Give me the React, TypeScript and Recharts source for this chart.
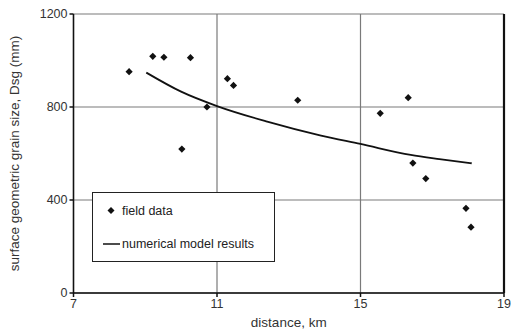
import React from 'react';
import { ComposedChart, Scatter, Line, XAxis, YAxis, CartesianGrid, ReferenceLine } from 'recharts';

// field observations (distance km, Dsg mm)
const fieldX = [8.55, 9.21, 9.52, 10.26, 10.02, 10.72, 11.29, 11.46, 13.25, 15.55, 16.33, 16.46, 16.82, 17.94, 18.08];
const fieldY = [952, 1018, 1014, 1012, 619, 800, 922, 893, 829, 773, 840, 559, 492, 364, 283];

// model curve
const modelX = [9.03, 10, 11, 12.4, 13.9, 15, 16.4, 17.2, 18.1];
const modelY = [948, 866, 804, 737, 677, 641, 594, 576, 558];

const xTicks = [7, 11, 15, 19];
const yTicks = [0, 400, 800, 1200];

const fieldData = fieldX.map((x, i) => ({ x, y: fieldY[i] }));
const modelData = modelX.map((x, i) => ({ x, m: modelY[i] }));

const FONT = 'Liberation Sans, Arial, sans-serif';

function Diamond(props: any) {
  const { cx, cy } = props;
  const r = 3.6;
  return <polygon points={`${cx},${cy - r} ${cx + r},${cy} ${cx},${cy + r} ${cx - r},${cy}`} fill="#111" />;
}

function LegendBox() {
  return (
    <svg width={183} height={70} style={{ position: 'absolute', left: 92, top: 192 }}>
      <rect x={0.5} y={0.5} width={182} height={69} fill="#fff" stroke="#222" strokeWidth={1} />
      <polygon points="19,15 22.5,18.5 19,22 15.5,18.5" fill="#111" />
      <line x1={11} y1={52} x2={28} y2={52} stroke="#111" strokeWidth={1.5} />
      <text x={30} y={23} fontSize={12.5} fill="#222" fontFamily={FONT}>field data</text>
      <text x={30} y={56} fontSize={12.5} fill="#222" fontFamily={FONT}>numerical model results</text>
    </svg>
  );
}

export default function App() {
  return (
    <div style={{ position: 'absolute', left: 0, top: 0, width: 522, height: 330, background: '#fff' }}>
      <ComposedChart width={522} height={330} margin={{ top: 14, right: 18, bottom: 0, left: 0 }}>
        <CartesianGrid stroke="#7a7a7a" strokeWidth={1.2} />
        <XAxis
          type="number"
          dataKey="x"
          domain={[7, 19]}
          ticks={xTicks}
          height={37}
          stroke="#111"
          strokeWidth={1.5}
          tickSize={4}
          tick={{ fill: '#333', fontSize: 12.5, fontFamily: FONT }}
          label={{ value: 'distance, km', position: 'insideBottom', offset: 3, fill: '#333', fontSize: 13.5, fontFamily: FONT }}
        />
        <YAxis
          type="number"
          domain={[0, 1200]}
          ticks={yTicks}
          width={73.5}
          stroke="#111"
          strokeWidth={1.5}
          tickSize={4}
          tick={{ fill: '#333', fontSize: 12.5, fontFamily: FONT }}
          label={{
            value: 'surface geometric grain size, Dsg (mm)',
            angle: -90,
            position: 'insideLeft',
            offset: 14,
            style: { textAnchor: 'middle' },
            fill: '#333',
            fontSize: 13.5,
            fontFamily: FONT,
          }}
        />
        <ReferenceLine x={19} stroke="#111" strokeWidth={2.2} />
        <Line
          data={modelData}
          dataKey="m"
          type="monotone"
          stroke="#111"
          strokeWidth={1.8}
          dot={false}
          activeDot={false}
          isAnimationActive={false}
        />
        <Scatter data={fieldData} dataKey="y" shape={<Diamond />} isAnimationActive={false} />
      </ComposedChart>
      <LegendBox />
    </div>
  );
}
